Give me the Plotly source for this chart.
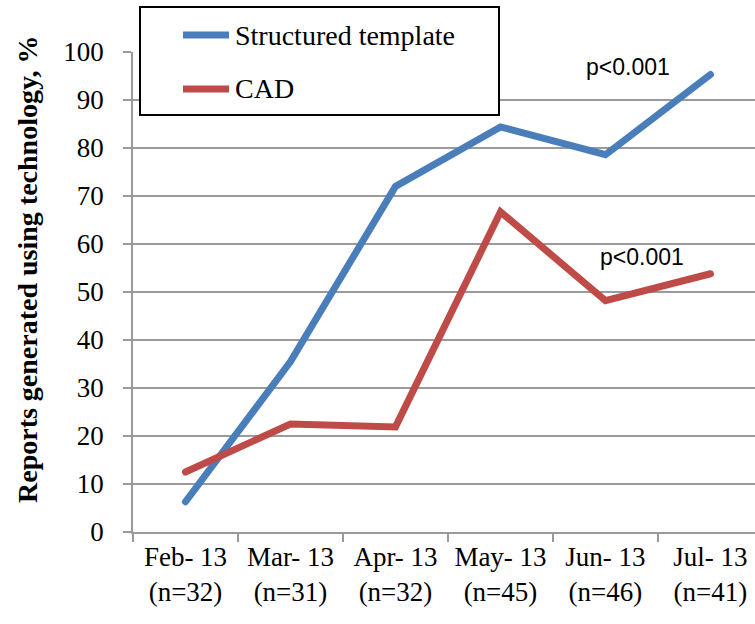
import plotly.graph_objects as go

months = ["Feb- 13", "Mar- 13", "Apr- 13", "May- 13", "Jun- 13", "Jul- 13"]
sizes = ["n=32", "n=31", "n=32", "n=45", "n=46", "n=41"]
structured = [6.3, 35.5, 72.0, 84.4, 78.6, 95.3]
cad = [12.5, 22.5, 21.9, 66.7, 48.2, 53.8]
series_names = ["Structured template", "CAD"]
colors = ["#4A7EBB", "#BE4B48"]
y_ticks = list(range(0, 101, 10))

categories = [f"{m}<br>({n})" for m, n in zip(months, sizes)]

W, H = 755, 624
L, R, T, B = 133, 0, 52, 92
PW, PH = W - L - R, H - T - B

def px(x):
    return (x - L) / PW

def py(y):
    return (H - B - y) / PH

fig = go.Figure()
for name, vals, col in zip(series_names, [structured, cad], colors):
    fig.add_trace(go.Scatter(x=categories, y=vals, mode="lines", name=name,
                             line=dict(color=col, width=7), showlegend=False))

serif = "Liberation Serif, Times New Roman, serif"
grid = "#9a9a9a"

fig.update_layout(
    width=W, height=H,
    margin=dict(l=L, r=R, t=T, b=B),
    paper_bgcolor="white", plot_bgcolor="white",
    font=dict(family=serif, size=27, color="black"),
    xaxis=dict(type="category", range=[-0.5, 5.424], showgrid=False,
               showline=True, linecolor=grid, linewidth=1.5,
               ticks="outside", tickson="boundaries", ticklen=8, tickcolor=grid,
               tickwidth=1.5, tickfont=dict(family=serif, size=27, color="black")),
    yaxis=dict(range=[0, 100], tickvals=y_ticks, showgrid=True, gridcolor=grid,
               gridwidth=1.5, showline=True, linecolor=grid, linewidth=1.5,
               ticks="outside", ticklen=8, tickcolor=grid, tickwidth=1.5,
               ticklabelstandoff=14, zeroline=False,
               tickfont=dict(family=serif, size=27, color="black")),
)

# y-axis title
fig.add_annotation(text="<b>Reports generated using technology, %</b>",
                   xref="paper", yref="paper", x=px(27), y=py(270),
                   xanchor="center", yanchor="middle", textangle=-90,
                   showarrow=False, font=dict(family=serif, size=28, color="black"))

# p-value annotations
sans = "Liberation Sans, Arial, sans-serif"
fig.add_annotation(text="p<0.001", x=4.21, y=96.8, xref="x", yref="y",
                   showarrow=False, font=dict(family=sans, size=23, color="black"))
fig.add_annotation(text="p<0.001", x=4.35, y=57.2, xref="x", yref="y",
                   showarrow=False, font=dict(family=sans, size=23, color="black"))

# manual legend box
fig.add_shape(type="rect", xref="paper", yref="paper",
              x0=px(140), x1=px(499), y0=py(115), y1=py(7),
              line=dict(color="black", width=2), fillcolor="white", layer="above")
for i, (name, col) in enumerate(zip(series_names, colors)):
    yy = [35, 89][i]
    fig.add_shape(type="line", xref="paper", yref="paper",
                  x0=px(183), x1=px(229), y0=py(yy), y1=py(yy),
                  line=dict(color=col, width=7), layer="above")
    fig.add_annotation(text=name, xref="paper", yref="paper", x=px(233), y=py(yy),
                       xanchor="left", yanchor="middle", showarrow=False,
                       font=dict(family=serif, size=28, color="black"))

post = """
document.body.style.margin = '0';
document.body.style.overflow = 'hidden';
document.querySelectorAll('.scatterlayer .js-line').forEach(function(p){ p.style.strokeLinecap = 'round'; });
document.querySelectorAll('.shapelayer path').forEach(function(p){ if (p.getAttribute('fill') === 'none' || p.style.fill === 'none') { p.style.strokeLinecap = 'round'; } });
"""

fig.write_html("out.html", post_script=post, config={"displayModeBar": False})
